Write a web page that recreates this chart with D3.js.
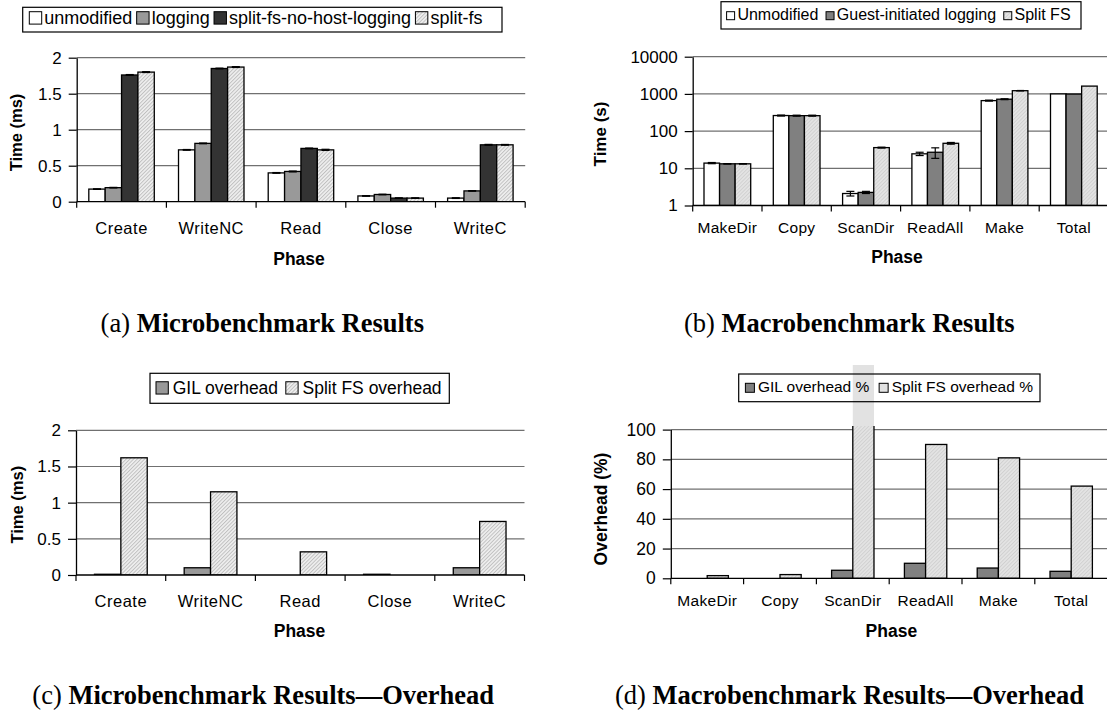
<!DOCTYPE html>
<html><head><meta charset="utf-8">
<script src="https://cdn.jsdelivr.net/npm/d3@7"></script>
<style>
body{margin:0;background:#fff;}
svg{display:block;}
</style></head><body>
<svg id="chart" width="1107" height="711"></svg>
<script>
// ---------- Panel (a) Microbenchmark Results ----------
const microPhases = ["Create", "WriteNC", "Read", "Close", "WriteC"];
const microSeriesNames = ["unmodified", "logging", "split-fs-no-host-logging", "split-fs"];
const microUnmodified = [0.175, 0.72, 0.40, 0.08, 0.05];
const microLogging = [0.195, 0.81, 0.42, 0.10, 0.15];
const microNoHostLogging = [1.76, 1.85, 0.74, 0.05, 0.79];
const microSplitFs = [1.80, 1.87, 0.72, 0.05, 0.79];
const microUnmodifiedErr = [0.004, 0.005, 0.005, 0.004, 0.005];
const microLoggingErr = [0.004, 0.005, 0.006, 0.004, 0.004];
const microNoHostLoggingErr = [0.006, 0.005, 0.005, 0.004, 0.006];
const microSplitFsErr = [0.006, 0.006, 0.008, 0.004, 0.005];
const microTicks = [0, 0.5, 1, 1.5, 2];

// ---------- Panel (b) Macrobenchmark Results ----------
const macroPhases = ["MakeDir", "Copy", "ScanDir", "ReadAll", "Make", "Total"];
const macroSeriesNames = ["Unmodified", "Guest-initiated logging", "Split FS"];
const macroUnmodified = [13.8, 262, 2.1, 24.5, 660, 1000];
const macroLogging = [13.2, 260, 2.25, 27, 720, 990];
const macroSplitFs = [13.2, 260, 36, 47, 1220, 1620];
const macroUnmodifiedErr = [0.5, 8, 0.3, 2.5, 20, 0];
const macroLoggingErr = [0.2, 8, 0.15, 8.5, 20, 0];
const macroSplitFsErr = [0.2, 8, 1, 2.5, 15, 0];
const macroTicks = [1, 10, 100, 1000, 10000];

// ---------- Panel (c) Microbenchmark Results—Overhead ----------
const microOverheadSeriesNames = ["GIL overhead", "Split FS overhead"];
const microGilOverhead = [0.01, 0.1, 0, 0.01, 0.1];
const microSplitFsOverhead = [1.62, 1.15, 0.32, 0, 0.74];

// ---------- Panel (d) Macrobenchmark Results—Overhead ----------
const macroOverheadSeriesNames = ["GIL overhead %", "Split FS overhead %"];
const macroGilOverhead = [0, 0, 5.4, 10.1, 6.9, 4.7];
const macroSplitFsOverhead = [1.8, 2.5, 1500, 90, 81, 62];
const macroOverheadTicks = [0, 20, 40, 60, 80, 100];

// ---------- Captions ----------
const captionLabels = ["(a)", "(b)", "(c)", "(d)"];
const captionTitles = ["Microbenchmark Results", "Macrobenchmark Results",
  "Microbenchmark Results\u2014Overhead", "Macrobenchmark Results\u2014Overhead"];

const W = 1107, H = 711;
const SANS = "'Liberation Sans', Arial, Helvetica, sans-serif";
const SERIF = "'Liberation Serif', 'Times New Roman', Times, serif";
const svg = d3.select("#chart");
const defs = svg.append("defs");

function hatch(id, bg, line, size) {
  const p = defs.append("pattern").attr("id", id).attr("patternUnits", "userSpaceOnUse")
    .attr("width", size).attr("height", size).attr("patternTransform", "rotate(45)");
  p.append("rect").attr("width", size).attr("height", size).attr("fill", bg);
  p.append("line").attr("x1", 0.5).attr("y1", 0).attr("x2", 0.5).attr("y2", size)
    .attr("stroke", line).attr("stroke-width", 0.9);
}
hatch("hatchA", "#efefef", "#bdbdbd", 2.6);
hatch("hatchB", "#e4e4e4", "#cfcfcf", 2.6);

function drawLegend(cfg) {
  const g = svg.append("g");
  let xPos = cfg.box[0] + cfg.padL;
  cfg.items.forEach(it => {
    g.append("rect").attr("x", xPos).attr("y", cfg.cy - cfg.sw / 2)
      .attr("width", cfg.sw).attr("height", cfg.sw)
      .attr("fill", it.fill).attr("stroke", "#000").attr("stroke-width", 1);
    const t = g.append("text").attr("x", xPos + cfg.sw + cfg.gapST).attr("y", cfg.baseline)
      .attr("font-family", SANS).attr("font-size", cfg.fs).attr("fill", "#000").text(it.name);
    xPos += cfg.sw + cfg.gapST + t.node().getComputedTextLength() + cfg.gapItems;
  });
  g.append("rect").attr("x", cfg.box[0]).attr("y", cfg.box[1])
    .attr("width", cfg.box[2] - cfg.box[0]).attr("height", cfg.box[3] - cfg.box[1])
    .attr("fill", "none").attr("stroke", "#000").attr("stroke-width", 1.2);
}

function drawPanel(cfg) {
  const g = svg.append("g");
  const n = cfg.categories.length;
  const x = d3.scaleBand().domain(cfg.categories)
    .range([cfg.left, cfg.left + cfg.catWidth * n]).paddingInner(0).paddingOuter(0);
  const right = Math.min(cfg.left + cfg.catWidth * n, W);
  const y = (cfg.log ? d3.scaleLog() : d3.scaleLinear()).domain(cfg.domain).range([cfg.bottom, cfg.top]);
  const base = y(cfg.domain[0]);
  const inner = d3.scaleBand().domain(cfg.series.map(s => s.name))
    .range([x.bandwidth() * cfg.gap, x.bandwidth() * (1 - cfg.gap)]).padding(0);

  // gridlines
  g.append("g").selectAll("line").data(cfg.ticks.filter(t => t !== cfg.domain[0])).join("line")
    .attr("x1", cfg.left).attr("x2", right).attr("y1", d => y(d)).attr("y2", d => y(d))
    .attr("stroke", "#707070").attr("stroke-width", 1.2);

  const clipId = cfg.id + "clip";
  defs.append("clipPath").attr("id", clipId).append("rect")
    .attr("x", cfg.left).attr("y", cfg.top - 3.5)
    .attr("width", right - cfg.left).attr("height", cfg.bottom - cfg.top + 3.5);

  // overflow parts (values beyond axis max) drawn lighter, unbordered
  cfg.series.forEach(s => {
    const rows = cfg.categories.map((c, i) => ({c, v: s.values[i]})).filter(d => d.v > cfg.domain[1]);
    g.append("g").selectAll("rect").data(rows).join("rect")
      .attr("x", d => x(d.c) + inner(s.name)).attr("width", inner.bandwidth())
      .attr("y", d => Math.max(y(d.v), cfg.overflowTop))
      .attr("height", d => (cfg.top - 3.5) - Math.max(y(d.v), cfg.overflowTop))
      .attr("fill", s.overflowFill || s.fill);
  });

  // bars
  cfg.series.forEach(s => {
    const rows = cfg.categories.map((c, i) => ({c, v: s.values[i], e: s.errors ? s.errors[i] : 0}))
      .filter(d => d.v > cfg.domain[0]);
    g.append("g").attr("clip-path", `url(#${clipId})`).selectAll("rect").data(rows).join("rect")
      .attr("x", d => x(d.c) + inner(s.name)).attr("width", inner.bandwidth())
      .attr("y", d => y(d.v)).attr("height", d => base - y(d.v))
      .attr("fill", s.fill).attr("stroke", "#000").attr("stroke-width", 1.3);
    // error bars
    const er = rows.filter(d => d.e > 0);
    const eg = g.append("g").attr("stroke", "#000").attr("stroke-width", 1.2);
    er.forEach(d => {
      const cx = x(d.c) + inner(s.name) + inner.bandwidth() / 2;
      const y1 = y(d.v + d.e), y2 = y(Math.max(d.v - d.e, cfg.domain[0]));
      eg.append("line").attr("x1", cx).attr("x2", cx).attr("y1", y1).attr("y2", y2);
      eg.append("line").attr("x1", cx - 4).attr("x2", cx + 4).attr("y1", y1).attr("y2", y1);
      eg.append("line").attr("x1", cx - 4).attr("x2", cx + 4).attr("y1", y2).attr("y2", y2);
    });
  });

  // y axis
  const ya = d3.axisLeft(y).tickValues(cfg.ticks).tickFormat(cfg.fmt)
    .tickSize(8).tickSizeOuter(0).tickPadding(7);
  const yg = g.append("g").attr("transform", `translate(${cfg.left},0)`).call(ya);
  yg.select(".domain").attr("stroke", "#000").attr("stroke-width", 1.3);
  yg.selectAll(".tick line").attr("stroke", "#000").attr("stroke-width", 1.2);
  yg.selectAll(".tick text").attr("font-family", SANS).attr("font-size", cfg.yTickFs).attr("fill", "#000");

  // x axis
  const xa = d3.axisBottom(x).tickSize(0).tickSizeOuter(0);
  const xg = g.append("g").attr("transform", `translate(0,${base})`).call(xa);
  xg.select(".domain").remove();
  xg.selectAll(".tick text").attr("y", cfg.xLabelY - base).attr("dy", 0)
    .attr("font-family", SANS).attr("font-size", cfg.xTickFs).attr("letter-spacing", cfg.xLs || 0)
    .attr("fill", "#000");
  g.append("line").attr("x1", cfg.left).attr("x2", right).attr("y1", base).attr("y2", base)
    .attr("stroke", "#000").attr("stroke-width", 1.3);
  const bounds = cfg.categories.map(c => x(c)).concat([x.range()[1]]).filter(v => v <= W);
  g.append("g").selectAll("line").data(bounds).join("line")
    .attr("x1", d => d).attr("x2", d => d).attr("y1", base).attr("y2", base + 6)
    .attr("stroke", "#000").attr("stroke-width", 1.2);

  // titles
  g.append("text").attr("transform", `translate(${cfg.yTitle[0]},${cfg.yTitle[1]}) rotate(-90)`)
    .attr("text-anchor", "middle").attr("font-family", SANS).attr("font-weight", "bold")
    .attr("font-size", cfg.yTitleFs).attr("fill", "#000").text(cfg.yTitleText);
  g.append("text").attr("x", cfg.xTitle[0]).attr("y", cfg.xTitle[1])
    .attr("text-anchor", "middle").attr("font-family", SANS).attr("font-weight", "bold")
    .attr("font-size", 17.5).attr("fill", "#000").text("Phase");
}

// Panel (a)
drawPanel({
  id: "a", categories: microPhases, left: 76.7, catWidth: 89.7, top: 57.7, bottom: 201.7,
  domain: [0, 2], ticks: microTicks, fmt: d3.format("~g"), gap: 0.135,
  series: [
    {name: microSeriesNames[0], values: microUnmodified, errors: microUnmodifiedErr, fill: "#ffffff"},
    {name: microSeriesNames[1], values: microLogging, errors: microLoggingErr, fill: "#999999"},
    {name: microSeriesNames[2], values: microNoHostLogging, errors: microNoHostLoggingErr, fill: "#333333"},
    {name: microSeriesNames[3], values: microSplitFs, errors: microSplitFsErr, fill: "url(#hatchA)"}
  ],
  yTickFs: 17, xTickFs: 16.5, xLs: 0.5, xLabelY: 234.3,
  yTitle: [21.5, 132.5], yTitleFs: 16.5, yTitleText: "Time (ms)", xTitle: [299, 265]
});
drawLegend({
  box: [22.7, 7.3, 502, 32], padL: 6.6, sw: 12.4, gapST: 2.6, gapItems: 4.3, fs: 18, cy: 17.9, baseline: 24,
  items: [
    {name: microSeriesNames[0], fill: "#ffffff"}, {name: microSeriesNames[1], fill: "#999999"},
    {name: microSeriesNames[2], fill: "#333333"}, {name: microSeriesNames[3], fill: "url(#hatchA)"}
  ]
});

// Panel (b)
drawPanel({
  id: "b", categories: macroPhases, left: 692.7, catWidth: 69.3, top: 56.7, bottom: 205.5, log: true,
  domain: [1, 10000], ticks: macroTicks, fmt: d3.format("d"), gap: 0.163,
  series: [
    {name: macroSeriesNames[0], values: macroUnmodified, errors: macroUnmodifiedErr, fill: "#ffffff"},
    {name: macroSeriesNames[1], values: macroLogging, errors: macroLoggingErr, fill: "#808080"},
    {name: macroSeriesNames[2], values: macroSplitFs, errors: macroSplitFsErr, fill: "url(#hatchB)"}
  ],
  yTickFs: 17, xTickFs: 15.5, xLs: 0.3, xLabelY: 233.3,
  yTitle: [606, 134], yTitleFs: 17, yTitleText: "Time (s)", xTitle: [897, 263.3]
});
drawLegend({
  box: [721, 1.7, 1081, 29], padL: 5.6, sw: 8, gapST: 2.8, gapItems: 7.7, fs: 16, cy: 15.7, baseline: 19.8,
  items: [
    {name: macroSeriesNames[0], fill: "#ffffff"}, {name: macroSeriesNames[1], fill: "#808080"},
    {name: macroSeriesNames[2], fill: "url(#hatchB)"}
  ]
});

// Panel (c)
drawPanel({
  id: "c", categories: microPhases, left: 76, catWidth: 89.7, top: 430.3, bottom: 575,
  domain: [0, 2], ticks: microTicks, fmt: d3.format("~g"), gap: 0.206,
  series: [
    {name: microOverheadSeriesNames[0], values: microGilOverhead, fill: "#999999"},
    {name: microOverheadSeriesNames[1], values: microSplitFsOverhead, fill: "url(#hatchA)"}
  ],
  yTickFs: 17, xTickFs: 16.5, xLs: 0.5, xLabelY: 607.3,
  yTitle: [22.7, 504.7], yTitleFs: 16.5, yTitleText: "Time (ms)", xTitle: [299.5, 636.7]
});
drawLegend({
  box: [150, 373.3, 449.3, 403.3], padL: 6, sw: 12.3, gapST: 4.4, gapItems: 7.7, fs: 17.5, cy: 387.9, baseline: 394,
  items: [
    {name: microOverheadSeriesNames[0], fill: "#999999"}, {name: microOverheadSeriesNames[1], fill: "url(#hatchA)"}
  ]
});

// Panel (d)
drawPanel({
  id: "d", categories: macroPhases, left: 670.8, catWidth: 72.8, top: 429.6, bottom: 578.3,
  domain: [0, 100], ticks: macroOverheadTicks, fmt: d3.format("d"), gap: 0.209, overflowTop: 365,
  series: [
    {name: macroOverheadSeriesNames[0], values: macroGilOverhead, fill: "#808080"},
    {name: macroOverheadSeriesNames[1], values: macroSplitFsOverhead, fill: "url(#hatchB)", overflowFill: "#e2e2e2"}
  ],
  yTickFs: 17.5, xTickFs: 15.5, xLs: 0.3, xLabelY: 605.7,
  yTitle: [607, 509], yTitleFs: 17.5, yTitleText: "Overhead (%)", xTitle: [891.4, 636.7]
});
drawLegend({
  box: [738.7, 374, 1040, 401.7], padL: 6.7, sw: 9, gapST: 3.5, gapItems: 9.8, fs: 15.5, cy: 387.8, baseline: 392,
  items: [
    {name: macroOverheadSeriesNames[0], fill: "#808080"}, {name: macroOverheadSeriesNames[1], fill: "#e2e2e2"}
  ]
});

// Captions
const capPos = [[262.3, 331.7], [849.3, 331.7], [263.2, 704], [849.5, 704]];
captionLabels.forEach((lab, i) => {
  const t = svg.append("text").attr("x", capPos[i][0]).attr("y", capPos[i][1])
    .attr("text-anchor", "middle").attr("font-family", SERIF).attr("font-size", 26.5).attr("fill", "#000");
  t.append("tspan").text(lab + " ");
  t.append("tspan").attr("font-weight", "bold").text(captionTitles[i]);
});
</script>
</body></html>
